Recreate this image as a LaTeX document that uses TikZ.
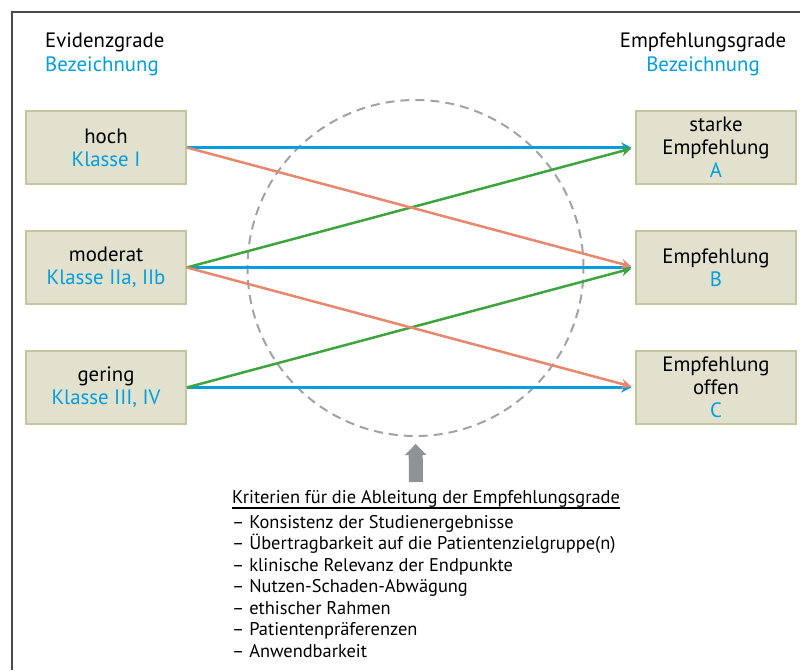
\documentclass[tikz,border=0pt]{standalone}
\usepackage{fontspec}
\setmainfont{PT Sans}
\usepackage{tikz}
\usetikzlibrary{positioning, arrows.meta}

\definecolor{bzblau}{RGB}{0,158,224}
\definecolor{rotpfeil}{RGB}{232,135,107}
\definecolor{gruenpfeil}{RGB}{62,165,62}
\definecolor{kasten}{RGB}{226,225,205}
\definecolor{kastenrand}{RGB}{198,197,162}
\definecolor{kreisgrau}{RGB}{160,163,166}
\definecolor{rahmengrau}{RGB}{75,75,75}

\begin{document}
\begin{tikzpicture}[
    x=1pt, y=-1pt,
    grad/.style={draw=kastenrand, fill=kasten, line width=1.5pt, inner sep=0pt,
        minimum width=160pt, minimum height=73pt, align=center,
        font=\fontsize{20.8}{23}\selectfont},
    kopf/.style={inner sep=0pt, font=\fontsize{20.8}{24}\selectfont},
    pfeil/.style={line width=2.5pt, shorten >=4pt,
        -{Stealth[length=10pt, width=10pt, inset=3pt]}},
    liste/.style={inner sep=0pt, font=\fontsize{18.4}{21.45}\selectfont}]
    \useasboundingbox (0,0) rectangle (800,670);
    % Rahmen
    \draw[rahmengrau, line width=2pt] (12,670) -- (12,12) -- (800,12);
    % Ueberschriften
    \node[kopf, anchor=north west, align=left] (ev) at (45,33)
        {Evidenzgrade\\\textcolor{bzblau}{Bezeichnung}};
    \node[kopf, anchor=north, align=center] (em) at (703,33)
        {Empfehlungsgrade\\\textcolor{bzblau}{Bezeichnung}};
    % Kreis der Kriterien
    \node[circle, draw=kreisgrau, line width=2pt, dash pattern=on 9pt off 6pt,
        minimum size=336pt, inner sep=0pt] (kreis) at (415.5,268) {};
    % Evidenzgrade
    \node[grad] (hoch) at (106,147.5) {hoch\\\textcolor{bzblau}{Klasse I}};
    \node[grad] (mod) at (106,267.5) {moderat\\\textcolor{bzblau}{Klasse IIa, IIb}};
    \node[grad] (ger) at (106,387.5) {gering\\\textcolor{bzblau}{Klasse III, IV}};
    % Empfehlungsgrade
    \node[grad] (grA) at (716,147.5) {starke\\Empfehlung\\\textcolor{bzblau}{A}};
    \node[grad] (grB) at (716,267.5) {Empfehlung\\\textcolor{bzblau}{B}};
    \node[grad] (grC) at (716,387.5) {Empfehlung\\offen\\\textcolor{bzblau}{C}};
    % Zuordnungen
    \draw[pfeil, bzblau] (hoch.east) -- (grA.west);
    \draw[pfeil, bzblau] (mod.east) -- (grB.west);
    \draw[pfeil, bzblau] (ger.east) -- (grC.west);
    \draw[pfeil, gruenpfeil] (mod.east) -- (grA.west);
    \draw[pfeil, gruenpfeil] (ger.east) -- (grB.west);
    \draw[pfeil, rotpfeil] (hoch.east) -- (grB.west);
    \draw[pfeil, rotpfeil] (mod.east) -- (grC.west);
    % Hinweis auf den Kreis
    \coordinate (fuss) at (416,482);
    \draw[kreisgrau!90!black, line width=14pt, shorten >=7pt,
        -{Triangle[length=11pt, width=21pt]}] (fuss) -- (kreis.south);
    % Kriterien
    \node[liste, anchor=base west] (titel) at (232,503)
        {Kriterien für die Ableitung der Empfehlungsgrade};
    \draw[line width=1.5pt] ([yshift=-5pt]titel.base west) -- ([yshift=-5pt]titel.base east);
    \node[liste, align=left, below=8pt of titel.south west, anchor=north west] (krit)
        {– Konsistenz der Studienergebnisse\\
         – Übertragbarkeit auf die Patientenzielgruppe(n)\\
         – klinische Relevanz der Endpunkte\\
         – Nutzen-Schaden-Abwägung\\
         – ethischer Rahmen\\
         – Patientenpräferenzen\\
         – Anwendbarkeit};
\end{tikzpicture}
\end{document}
